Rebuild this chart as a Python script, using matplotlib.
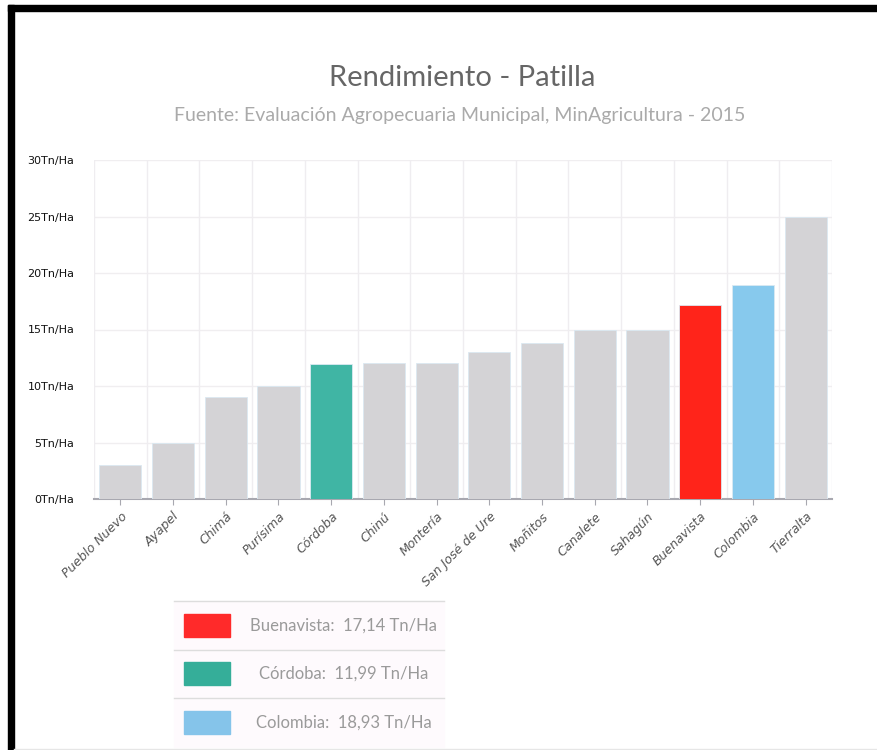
import matplotlib.pyplot as plt
from matplotlib.patches import Rectangle
from matplotlib.lines import Line2D

# Data
municipios = ['Pueblo Nuevo', 'Ayapel', 'Chimá', 'Purísima', 'Córdoba', 'Chinú',
              'Montería', 'San José de Ure', 'Moñitos', 'Canalete', 'Sahagún',
              'Buenavista', 'Colombia', 'Tierralta']
rendimiento = [3.0, 5.0, 9.0, 10.0, 11.99, 12.0, 12.0, 13.0, 13.8, 15.0, 15.0,
               17.14, 18.93, 25.0]
y_ticks = [0, 5, 10, 15, 20, 25, 30]

destacados = {'Buenavista': '#ff241a', 'Córdoba': '#40b5a4', 'Colombia': '#87c9ed'}
legend_rows = [('Buenavista', '17,14 Tn/Ha', '#ff2a2a'),
               ('Córdoba', '11,99 Tn/Ha', '#35ae99'),
               ('Colombia', '18,93 Tn/Ha', '#85c4ea')]

W, H = 878, 750
fig = plt.figure(figsize=(W / 100, H / 100), dpi=100)

# frame around the picture
fig.patches.append(Rectangle((8 / W, 0), 6 / W, 1 - 5 / H, transform=fig.transFigure,
                             color='black', zorder=0))
fig.patches.append(Rectangle((8 / W, 1 - 11 / H), 1 - 8 / W, 6 / H, transform=fig.transFigure,
                             color='black', zorder=0))
fig.lines.append(Line2D([14 / W, 1], [1.5 / H, 1.5 / H], transform=fig.transFigure,
                        color='#e6e6e6', lw=1))

# plot area in pixels: x 94..832, y 160..499
ax = fig.add_axes([94 / W, 1 - 499 / H, (832 - 94) / W, (499 - 160) / H])
colors = [destacados.get(m, '#d4d3d6') for m in municipios]
x = range(len(municipios))
ax.bar(x, rendimiento, width=0.8, color=colors, edgecolor='#dbe9f2', linewidth=0.6, zorder=3)

ax.set_xlim(-0.5, len(municipios) - 0.5)
ax.set_ylim(0, 30)
ax.set_yticks(y_ticks)
ax.set_yticklabels([f'{v}Tn/Ha' for v in y_ticks], fontsize=8, color='#111111')
ax.set_xticks(list(x))
ax.set_xticklabels(municipios, rotation=45, ha='right', rotation_mode='anchor',
                   fontsize=9, color='#555555', style='italic')

# grid: horizontal every 5, vertical between categories
for v in y_ticks[1:]:
    ax.axhline(v, color='#f0eef0', lw=1, zorder=1)
for i in range(len(municipios) + 1):
    ax.axvline(i - 0.5, color='#efedf0', lw=1, zorder=1)

for s in ['top', 'right', 'left']:
    ax.spines[s].set_visible(False)
ax.spines['bottom'].set_color('#a8a8b0')
ax.spines['bottom'].set_linewidth(1.5)
ax.tick_params(axis='y', length=0, pad=14)
ax.tick_params(axis='x', length=4, color='#a8a8b0', pad=4)

# titles
fig.text(462 / W, 1 - 78 / H, 'Rendimiento - Patilla', ha='center', va='center',
         fontsize=21, color='#666666', family='Lato')
fig.text(460 / W, 1 - 115 / H, 'Fuente: Evaluación Agropecuaria Municipal, MinAgricultura - 2015',
         ha='center', va='center', fontsize=14, color='#aaaaaa', family='Lato')

# legend table
lx0, lx1 = 174, 444
row_h = 48.5
top = 601
fig.patches.append(Rectangle((lx0 / W, 1 - (top + 3 * row_h) / H), (lx1 - lx0) / W, 3 * row_h / H,
                             transform=fig.transFigure, color='#fefafd', zorder=0))
for k, (name, val, col) in enumerate(legend_rows):
    y_top = top + k * row_h
    fig.lines.append(Line2D([lx0 / W, lx1 / W], [1 - y_top / H] * 2, transform=fig.transFigure,
                            color='#dddddd', lw=1))
    yc = y_top + row_h / 2
    fig.patches.append(Rectangle((184 / W, 1 - (yc + 11.5) / H), 46 / W, 23 / H,
                                 transform=fig.transFigure, color=col, zorder=2))
    fig.text(344 / W, 1 - yc / H, f'{name}:  {val}', ha='center', va='center',
             fontsize=12, color='#9a9a9a', family='Lato')

fig.savefig('out.png', dpi=100)
